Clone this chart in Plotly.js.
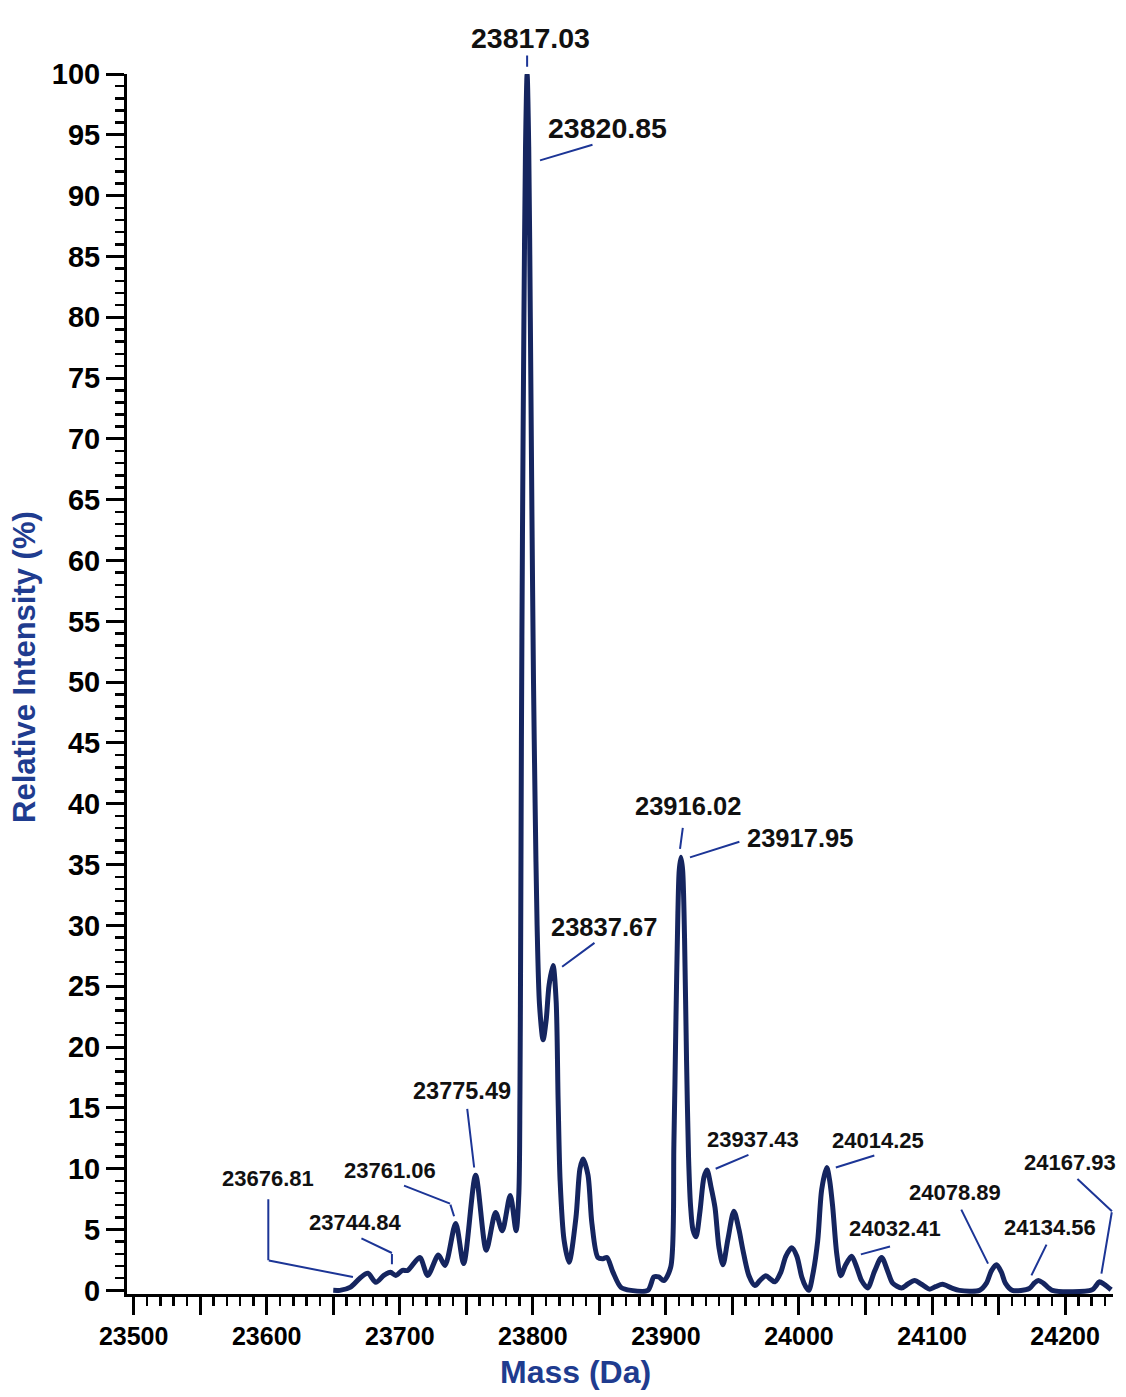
<!DOCTYPE html>
<html>
<head>
<meta charset="utf-8">
<script src="https://cdn.plot.ly/plotly-3.0.1.min.js"></script>
<style>
html, body { margin: 0; padding: 0; background: #fff; }
#plot { width: 1126px; height: 1397px; }
</style>
</head>
<body>
<div id="plot"></div>
<script>
// deconvoluted spectrum
var mass = [
    23650, 23655, 23663, 23670, 23676, 23682, 23688, 23693, 23697, 23702,
    23706, 23715, 23721, 23729, 23734, 23742, 23748, 23757, 23765, 23772,
    23777, 23783, 23787.4, 23789.5, 23790.3, 23790.9, 23791.4, 23792.2, 23793.3, 23794.5,
    23795.7, 23796.9, 23798.1, 23799.3, 23800.5, 23801.7, 23803.2, 23805, 23807.7, 23810,
    23812.2, 23815.2, 23817.5, 23819, 23820.5, 23823.5, 23827.2, 23832.4, 23835.4, 23837.7,
    23841.4, 23844.4, 23848.9, 23852.7, 23855.7, 23860.2, 23866.2, 23873.7, 23886.4, 23891,
    23894.6, 23898.4, 23903.6, 23906, 23907.5, 23909, 23910, 23911.3, 23912.6, 23914,
    23915.5, 23917, 23918.5, 23920.3, 23922.6, 23925.6, 23928.6, 23930.9, 23933.9, 23936.9,
    23939.9, 23942.9, 23946.6, 23951.1, 23954.9, 23957.9, 23962.4, 23966.9, 23970.6, 23975.1,
    23978.9, 23981.9, 23986.4, 23990.1, 23994.6, 23998.4, 24002.1, 24005.1, 24007.4, 24010.4,
    24014.1, 24017.1, 24020.9, 24023.1, 24025.4, 24028.4, 24031.4, 24035.1, 24039.6, 24043.4,
    24047.1, 24051.6, 24056.9, 24062.1, 24066.6, 24070.4, 24077.1, 24081.6, 24086.9, 24092.1,
    24098.1, 24102.6, 24107.9, 24114.6, 24120.6, 24135.6, 24140.9, 24144.6, 24148.4, 24152.1,
    24155.1, 24160.4, 24173.1, 24176.9, 24179.9, 24183.6, 24190.4, 24220.4, 24223.4, 24225.6,
    24229.4, 24234.6
];
var intensity = [
    0, 0, 0.27, 1.0, 1.4, 0.66, 1.23, 1.48, 1.23, 1.64,
    1.64, 2.7, 1.23, 2.9, 2.05, 5.5, 2.2, 9.46, 3.3, 6.4,
    4.9, 7.8, 4.9, 8, 16, 30, 45, 62, 80, 94,
    100, 94, 80, 64, 50, 40, 30, 23.5, 20.6, 22.2,
    25.1, 26.7, 23.8, 15.6, 9.0, 4.1, 2.3, 6.0, 10.0, 10.8,
    9.5, 5.5, 2.7, 2.6, 2.7, 1.5, 0.25, 0, 0, 1.1,
    1.1, 0.8, 1.9, 12, 22, 31, 34.5, 35.6, 34.5, 29,
    19, 11, 7, 5, 4.4, 6.5, 9.3, 9.9, 8.5, 6.8,
    3.5, 2.1, 4.2, 6.5, 5.0, 3.3, 1.2, 0.4, 0.8, 1.2,
    0.9, 0.7, 1.5, 2.8, 3.5, 2.8, 1.1, 0.3, 0, 1.3,
    4.1, 8.3, 10.1, 9.0, 6.8, 3.0, 1.2, 2.1, 2.8, 1.9,
    0.8, 0.2, 1.6, 2.7, 1.6, 0.6, 0.2, 0.5, 0.8, 0.5,
    0.1, 0.3, 0.5, 0.2, 0, 0, 0.6, 1.6, 2.1, 1.5,
    0.6, 0, 0.15, 0.6, 0.8, 0.6, 0, 0.05, 0.4, 0.7,
    0.5, 0.05
];

// peak labels
var peakLabels = [
    '23817.03', '23820.85', '23916.02', '23917.95', '23837.67',
    '23775.49', '23761.06', '23744.84', '23676.81', '23937.43',
    '24014.25', '24032.41', '24078.89', '24134.56', '24167.93'
];
var labelMass = [
    23797.9, 23855.8, 23916.6, 24000.7, 23853.5,
    23746.9, 23692.8, 23666.5, 23601.2, 23965.4,
    24059.3, 24072, 24117.1, 24188.4, 24203.5
];
var labelIntensity = [
    103.0, 95.6, 39.8, 37.2, 29.9,
    16.4, 9.87, 5.6, 9.2, 12.4,
    12.3, 5.1, 8.06, 5.18, 10.5
];

// leader lines, from label side to peak
var leaderMass = [
    [23795.7, 23795.7],
    [23845.2, 23805.4],
    [23912.8, 23910.6],
    [23955.6, 23918.1],
    [23846.7, 23822],
    [23750.6, 23755.9],
    [23702.8, 23737.8, 23740.8],
    [23670.8, 23694.1, 23694.1],
    [23601.2, 23601.2, 23664.8],
    [23962.4, 23937.4],
    [24057, 24027.7],
    [24068.8, 24046.5],
    [24121.6, 24142.1],
    [24186.4, 24174.7],
    [24208.9, 24235.2, 24227.3]
];
var leaderIntensity = [
    [101.6, 100.6],
    [94.2, 92.9],
    [38.1, 36.3],
    [36.9, 35.6],
    [28.6, 26.6],
    [15.0, 10.1],
    [8.63, 7.13, 6.09],
    [4.3, 3.07, 2.14],
    [7.57, 2.47, 1.09],
    [11.16, 10.0],
    [11.1, 10.1],
    [3.62, 2.96],
    [6.72, 2.2],
    [3.84, 1.23],
    [9.19, 6.5, 1.37]
];

var FONT = 'Liberation Sans, Arial, Helvetica, sans-serif';
var TITLE_BLUE = '#1f3c8f';
var LINE_NAVY = '#15255f';
var LEADER_BLUE = '#1c3596';

var Y_RANGE = [-0.3, 100];
var MARGIN = {l: 127, r: 13, t: 74, b: 103, pad: 0};
var PX_PER_UNIT = (1397 - MARGIN.t - MARGIN.b) / (Y_RANGE[1] - Y_RANGE[0]);

// label text sizes: the biggest peaks got bigger labels
var labelSizes = [28.5, 28.5, 25.5, 25.5, 25.5, 23.5, 22, 22, 22, 22, 22, 22, 22, 22, 22];

var annotations = [];

// annotations anchored above the axis top are hidden by plotly,
// so pin them to the top and push them up in pixels
function clampY(v) {
    if (v > Y_RANGE[1]) {
        return {y: Y_RANGE[1], shift: (v - Y_RANGE[1]) * PX_PER_UNIT};
    }
    return {y: v, shift: 0};
}

peakLabels.forEach(function (txt, i) {
    var c = clampY(labelIntensity[i]);
    annotations.push({
        x: labelMass[i],
        y: c.y,
        yshift: c.shift,
        xref: 'x',
        yref: 'y',
        text: txt,
        showarrow: false,
        xanchor: 'center',
        yanchor: 'middle',
        font: {family: FONT, size: labelSizes[i], color: '#111', weight: 'bold'}
    });
});

leaderMass.forEach(function (pts, i) {
    var ys = leaderIntensity[i];
    for (var k = 0; k < pts.length - 1; k++) {
        var head = clampY(ys[k + 1]);
        var a = {
            x: pts[k + 1],
            y: head.y,
            yshift: head.shift,
            xref: 'x',
            yref: 'y',
            text: ' ',
            font: {size: 1},
            borderpad: 0,
            showarrow: true,
            arrowhead: 0,
            arrowwidth: 2,
            arrowcolor: LEADER_BLUE,
            standoff: 0,
            startstandoff: 0
        };
        if (head.shift > 0) {
            // tail given in pixels relative to the head
            a.axref = 'pixel';
            a.ayref = 'pixel';
            a.ax = 0;
            a.ay = -(ys[k] - ys[k + 1]) * PX_PER_UNIT;
        } else {
            a.axref = 'x';
            a.ayref = 'y';
            a.ax = pts[k];
            a.ay = ys[k];
        }
        annotations.push(a);
    }
});

// axis titles
annotations.push({
    xref: 'paper',
    yref: 'paper',
    x: 0.455,
    y: -0.064,
    text: 'Mass (Da)',
    showarrow: false,
    xanchor: 'center',
    yanchor: 'middle',
    font: {family: FONT, size: 32, color: TITLE_BLUE, weight: 'bold'}
});
annotations.push({
    xref: 'paper',
    yref: 'paper',
    x: -0.1034,
    y: 0.514,
    text: 'Relative Intensity (%)',
    textangle: -90,
    showarrow: false,
    xanchor: 'center',
    yanchor: 'middle',
    font: {family: FONT, size: 31, color: TITLE_BLUE, weight: 'bold'}
});

var trace = {
    x: mass,
    y: intensity,
    type: 'scatter',
    mode: 'lines',
    line: {color: LINE_NAVY, width: 5, shape: 'spline', smoothing: 0.8},
    hoverinfo: 'x+y'
};

var layout = {
    width: 1126,
    height: 1397,
    paper_bgcolor: '#fff',
    plot_bgcolor: '#fff',
    showlegend: false,
    margin: MARGIN,
    xaxis: {
        range: [23495, 24236],
        tick0: 23500,
        dtick: 50,
        ticklabelstep: 2,
        tickformat: 'd',
        ticks: 'outside',
        ticklen: 18,
        tickwidth: 3,
        tickcolor: '#000',
        showline: true,
        linewidth: 3,
        linecolor: '#000',
        showgrid: false,
        zeroline: false,
        tickfont: {family: FONT, size: 25, color: '#000', weight: 'bold'},
        minor: {dtick: 10, ticks: 'outside', ticklen: 9, tickwidth: 2.5, tickcolor: '#000', showgrid: false}
    },
    yaxis: {
        range: Y_RANGE,
        tick0: 0,
        dtick: 5,
        ticks: 'outside',
        ticklen: 18,
        tickwidth: 3,
        tickcolor: '#000',
        showline: true,
        linewidth: 3,
        linecolor: '#000',
        showgrid: false,
        zeroline: false,
        tickfont: {family: FONT, size: 29, color: '#000', weight: 'bold'},
        minor: {dtick: 1, ticks: 'outside', ticklen: 9, tickwidth: 2.5, tickcolor: '#000', showgrid: false}
    },
    annotations: annotations
};

Plotly.newPlot('plot', [trace], layout, {staticPlot: true, displayModeBar: false});
</script>
</body>
</html>
